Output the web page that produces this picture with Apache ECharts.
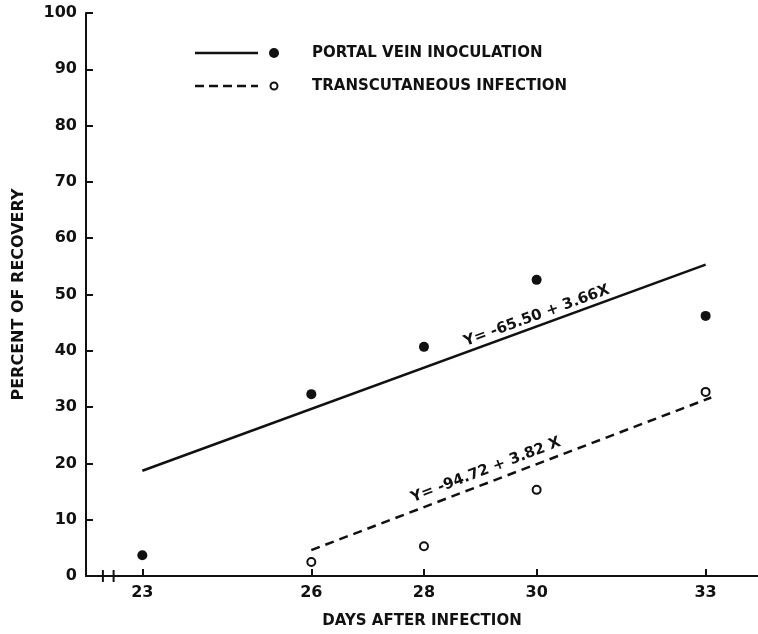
<!DOCTYPE html>
<html>
<head>
<meta charset="utf-8">
<script src="https://cdn.jsdelivr.net/npm/echarts@6/dist/echarts.min.js"></script>
<style>
  html, body { margin: 0; padding: 0; background: #fff; }
  #chart-container { width: 758px; height: 634px; }
</style>
</head>
<body>
<div id="chart-container"></div>
<script>
// datos
const dayTicks = [23, 26, 28, 30, 33];
const portalDays = [23, 26, 28, 30, 33];
const portalPct = [3.7, 32.3, 40.7, 52.6, 46.2];
const transDays = [26, 28, 30, 33];
const transPct = [2.5, 5.3, 15.3, 32.7];
// rectas de regresion (extremos leidos)
const portalFitDays = [23, 33];
const portalFitPct = [18.7, 55.3];
const transFitDays = [26, 33.1];
const transFitPct = [4.6, 31.7];
const portalEq = 'Y= -65.50 + 3.66X';
const transEq = 'Y= -94.72 + 3.82 X';

const FONT = 'DejaVu Sans';
const INK = '#111';

const zip = (xs, ys) => xs.map((x, i) => [x, ys[i]]);

var myChart = echarts.init(document.getElementById('chart-container'));

var option = {
    backgroundColor: '#fff',
    animation: false,
    grid: { left: 86, right: 0, top: 13, bottom: 58, outerBoundsMode: 'none', containLabel: false },
    xAxis: {
        type: 'value',
        min: 22,
        max: 33.93,
        name: 'DAYS AFTER INFECTION',
        nameLocation: 'middle',
        nameGap: 38,
        nameTextStyle: { fontFamily: FONT, fontSize: 15, fontWeight: 'bold', color: INK },
        axisLine: { lineStyle: { color: INK, width: 2 } },
        axisTick: { inside: true, length: 7, customValues: dayTicks, lineStyle: { color: INK, width: 2 } },
        axisLabel: { customValues: dayTicks, margin: 9, fontFamily: FONT, fontSize: 16, fontWeight: 'bold', color: INK },
        splitLine: { show: false }
    },
    yAxis: {
        type: 'value',
        min: 0,
        max: 100,
        interval: 10,
        name: 'PERCENT OF RECOVERY',
        nameLocation: 'middle',
        nameRotate: 90,
        nameGap: 59,
        nameTextStyle: { fontFamily: FONT, fontSize: 16, fontWeight: 'bold', color: INK },
        axisLine: { show: true, lineStyle: { color: INK, width: 2 } },
        axisTick: { show: true, inside: true, length: 7, lineStyle: { color: INK, width: 2 } },
        axisLabel: { margin: 9, fontFamily: FONT, fontSize: 16, fontWeight: 'bold', color: INK },
        splitLine: { show: false }
    },
    series: [
        {
            name: 'portal fit',
            type: 'line',
            data: zip(portalFitDays, portalFitPct),
            symbol: 'none',
            lineStyle: { color: INK, width: 2.5 }
        },
        {
            name: 'transcutaneous fit',
            type: 'line',
            data: zip(transFitDays, transFitPct),
            symbol: 'none',
            lineStyle: { color: INK, width: 2.5, type: [9, 6] }
        },
        {
            name: 'PORTAL VEIN INOCULATION',
            type: 'scatter',
            data: zip(portalDays, portalPct),
            symbol: 'circle',
            symbolSize: 10,
            itemStyle: { color: INK, opacity: 1 }
        },
        {
            name: 'TRANSCUTANEOUS INFECTION',
            type: 'scatter',
            data: zip(transDays, transPct),
            symbol: 'circle',
            symbolSize: 8,
            itemStyle: { color: '#fff', borderColor: INK, borderWidth: 2, opacity: 1 }
        }
    ]
};

myChart.setOption(option);

// angulo de una recta en pixeles
const angleOf = (xs, ys) => {
    const a = myChart.convertToPixel({ gridIndex: 0 }, [xs[0], ys[0]]);
    const b = myChart.convertToPixel({ gridIndex: 0 }, [xs[1], ys[1]]);
    return Math.atan2(a[1] - b[1], b[0] - a[0]);
};

const eqLabel = (text, x, y, ang) => {
    const p = myChart.convertToPixel({ gridIndex: 0 }, [x, y]);
    return {
        type: 'text',
        x: p[0], y: p[1],
        rotation: ang,
        style: {
            text: text,
            fontFamily: FONT, fontSize: 15, fontWeight: 'bold', fill: INK,
            align: 'center', verticalAlign: 'middle'
        }
    };
};

const legendText = (text, y) => ({
    type: 'text', x: 312, y: y,
    style: { text: text, fontFamily: FONT, fontSize: 15, fontWeight: 'bold', fill: INK, verticalAlign: 'middle' }
});

// corte del eje x
const b1 = myChart.convertToPixel({ xAxisIndex: 0 }, 22.3);
const b2 = myChart.convertToPixel({ xAxisIndex: 0 }, 22.49);
const y0 = myChart.convertToPixel({ yAxisIndex: 0 }, 0);

myChart.setOption({
    graphic: [
        { type: 'rect', shape: { x: b1 + 1, y: y0 - 3, width: b2 - b1 - 2, height: 6 }, style: { fill: '#fff' } },
        { type: 'line', shape: { x1: b1, y1: y0 - 6, x2: b1, y2: y0 + 6 }, style: { stroke: INK, lineWidth: 2 } },
        { type: 'line', shape: { x1: b2, y1: y0 - 6, x2: b2, y2: y0 + 6 }, style: { stroke: INK, lineWidth: 2 } },
        // leyenda
        { type: 'line', shape: { x1: 195, y1: 53, x2: 258, y2: 53 }, style: { stroke: INK, lineWidth: 2.5 } },
        { type: 'circle', shape: { cx: 274, cy: 53, r: 5 }, style: { fill: INK } },
        legendText('PORTAL VEIN INOCULATION', 53),
        { type: 'line', shape: { x1: 195, y1: 86, x2: 258, y2: 86 }, style: { stroke: INK, lineWidth: 2.5, lineDash: [9, 5] } },
        { type: 'circle', shape: { cx: 274, cy: 86, r: 3.5 }, style: { fill: '#fff', stroke: INK, lineWidth: 2 } },
        legendText('TRANSCUTANEOUS INFECTION', 86),
        // ecuaciones
        eqLabel(portalEq, 30.0, 46.2, angleOf(portalFitDays, portalFitPct)),
        eqLabel(transEq, 29.1, 18.8, angleOf(transFitDays, transFitPct))
    ]
});
</script>
</body>
</html>
